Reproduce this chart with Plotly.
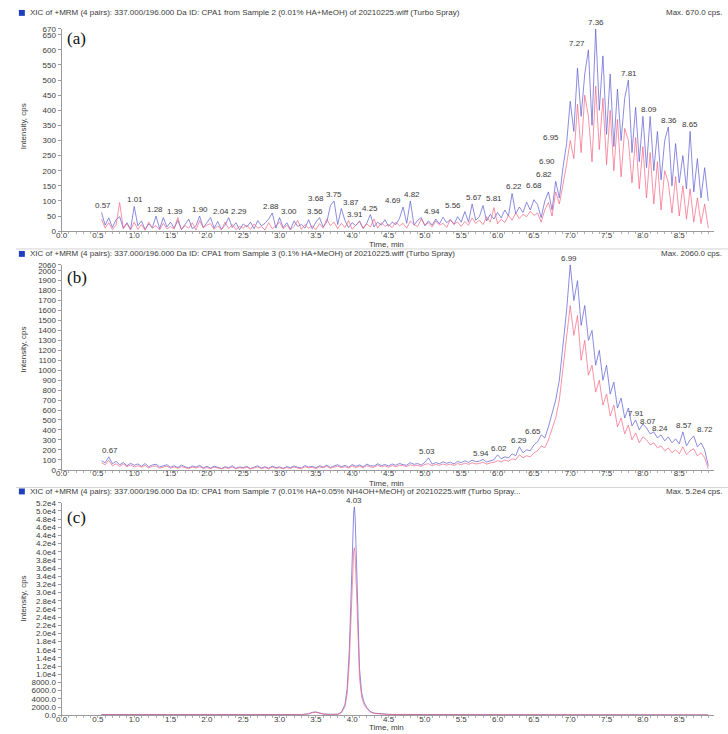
import plotly.graph_objects as go

W, H = 728, 734

# sampling grid of the chromatograms (panels a and b): 0.55 .. 8.90 min, 0.05 min step
T_START, T_STEP = 0.55, 0.05

# ---------------- panel (a) : Sample 2 (0.01% HA+MeOH) ----------------
A_BLUE = [
    62, 20, 44, 12, 38, 48, 10, 28, 6, 82,
    18, 34, 6, 24, 12, 50, 8, 45, 14, 30,
    10, 36, 5, 22, 40, 8, 18, 50, 12, 28,
    45, 10, 32, 6, 20, 45, 12, 28, 5, 24,
    14, 30, 8, 35, 18, 26, 40, 60, 10, 45,
    12, 28, 6, 34, 16, 22, 10, 38, 8, 30,
    45, 14, 30, 85, 100, 22, 75, 35, 12, 28,
    18, 34, 10, 26, 55, 14, 30, 20, 38, 16,
    30, 22, 42, 80, 26, 100, 20, 36, 45, 18,
    34, 20, 40, 24, 46, 28, 38, 22, 48, 30,
    65, 30, 90, 36, 48, 85, 34, 56, 40, 62,
    44, 70, 50, 125, 58, 80, 62, 96, 70, 104,
    88, 45, 100, 130, 70, 165, 110, 210, 290, 430,
    330, 540, 380, 520, 600, 350, 670, 400, 580, 320,
    520, 280, 470, 300, 440, 500, 260, 410, 230, 380,
    210, 380, 200, 330, 170, 300, 345, 150, 290, 160,
    250, 140, 330, 130, 240, 110, 210, 100,
]
A_RED = [
    40, 10, 28, 5, 20, 95, 8, 25, 4, 30,
    6, 22, 3, 30, 10, 18, 4, 26, 8, 15,
    8, 45, 5, 18, 10, 28, 4, 35, 12, 20,
    25, 6, 18, 4, 30, 8, 22, 5, 16, 10,
    20, 6, 24, 10, 15, 4, 28, 8, 18, 30,
    8, 20, 4, 16, 36, 6, 22, 10, 18, 5,
    25, 10, 40, 18, 30, 8, 26, 12, 35, 6,
    20, 32, 8, 24, 14, 40, 10, 28, 16, 22,
    12, 30, 18, 26, 10, 34, 22, 15, 40, 20,
    28, 14, 34, 20, 26, 12, 38, 24, 30, 16,
    32, 20, 44, 26, 36, 22, 48, 30, 78, 24,
    40, 28, 52, 36, 60, 42, 56, 48, 66, 52,
    60, 30, 70, 95, 50, 130, 90, 150, 220, 300,
    240, 420, 260, 450, 380, 230, 480, 270, 440, 220,
    400, 200, 370, 180, 340, 300, 160, 310, 140, 280,
    110, 260, 90, 230, 70, 200, 160, 60, 180, 50,
    150, 40, 140, 30, 110, 25, 90, 10,
]
A_LABELS = ["0.57", "1.01", "1.28", "1.39", "1.90", "2.04", "2.29", "2.88", "3.00",
            "3.56", "3.68", "3.75", "3.87", "3.91", "4.25", "4.69", "4.82", "4.94",
            "5.56", "5.67", "5.81", "6.22", "6.68", "6.82", "6.90", "6.95", "7.27",
            "7.36", "7.81", "8.09", "8.36", "8.65"]
A_YTICKS = [0, 50, 100, 150, 200, 250, 300, 350, 400, 450, 500, 550, 600, 650, 670]

# ---------------- panel (b) : Sample 3 (0.1% HA+MeOH) ----------------
B_BLUE = [
    90, 70, 130, 60, 85, 50, 72, 40, 65, 45,
    58, 35, 62, 30, 48, 55, 28, 42, 50, 25,
    40, 22, 46, 30, 18, 38, 26, 44, 20, 34,
    16, 36, 24, 12, 30, 20, 38, 14, 28, 22,
    34, 12, 26, 40, 18, 30, 15, 36, 22, 28,
    14, 32, 20, 38, 24, 16, 42, 26, 34, 20,
    40, 28, 46, 22, 38, 50, 30, 44, 26, 52,
    34, 48, 30, 56, 40, 36, 60, 42, 52, 38,
    58, 44, 64, 50, 46, 70, 54, 62, 48, 74,
    120, 56, 72, 60, 80, 64, 76, 58, 84, 70,
    90, 74, 96, 80, 86, 104, 78, 92, 100, 150,
    110, 130, 118, 160, 140, 230, 170, 200, 190, 250,
    280, 350, 320, 430, 560, 700, 900, 1250, 1600, 2060,
    1700, 1900, 1450, 1650, 1300, 1400, 1050, 1200, 900, 1050,
    760, 880, 620, 720, 520, 620, 440, 500, 400, 460,
    420, 360, 380, 320, 350, 290, 330, 270, 310, 260,
    380, 240, 300, 340, 230, 270, 200, 40,
]
B_RED = [
    70, 50, 95, 40, 60, 35, 55, 30, 48, 28,
    40, 25, 44, 18, 34, 38, 16, 30, 36, 15,
    28, 14, 32, 20, 10, 26, 16, 30, 12, 22,
    10, 26, 16, 8, 22, 12, 28, 8, 20, 14,
    24, 8, 18, 28, 10, 22, 9, 26, 14, 20,
    9, 22, 12, 28, 16, 10, 30, 18, 24, 12,
    28, 18, 34, 14, 26, 36, 20, 30, 16, 38,
    24, 34, 20, 40, 28, 26, 44, 30, 38, 26,
    42, 30, 46, 36, 32, 50, 38, 44, 34, 54,
    60, 40, 52, 44, 58, 46, 56, 42, 62, 50,
    66, 54, 70, 58, 62, 76, 56, 68, 74, 90,
    80, 96, 86, 110, 100, 150, 120, 140, 130, 170,
    190, 240, 220, 300, 400, 520, 700, 1000, 1300, 1650,
    1350, 1550, 1100, 1300, 950, 1050, 780, 900, 650, 760,
    540, 650, 430, 520, 360, 450, 300, 370, 270, 330,
    300, 250, 270, 220, 240, 190, 220, 170, 200, 160,
    230, 150, 190, 210, 140, 170, 120, 10,
]
B_LABELS = ["0.67", "5.03", "5.94", "6.02", "6.29", "6.65", "6.99",
            "7.91", "8.07", "8.24", "8.57", "8.72"]
B_YTICKS = list(range(0, 2001, 100)) + [2060]

# ---------------- panel (c) : Sample 7 (0.01% HA+0.05% NH4OH+MeOH) ----------------
C_TIME = [0.55, 1.0, 1.5, 2.0, 2.5, 3.0, 3.3, 3.4, 3.45, 3.5, 3.55, 3.6, 3.7, 3.8,
          3.85, 3.9, 3.93, 3.96, 3.98, 4.0, 4.02, 4.03, 4.04, 4.06, 4.08, 4.1,
          4.13, 4.16, 4.2, 4.25, 4.3, 4.4, 4.5, 5.0, 5.5, 6.0, 6.5, 7.0, 7.5,
          8.0, 8.5, 8.9]
C_BLUE = [150, 120, 110, 100, 110, 120, 150, 350, 700, 800, 600, 300, 200, 250,
          700, 2600, 6500, 16000, 27000, 40000, 49500, 51000, 48500, 37000, 23000, 11500,
          5500, 3300, 1900, 900, 500, 300, 200, 150, 130, 120, 110, 100, 100,
          90, 90, 80]
C_RED = [120, 100, 90, 80, 90, 100, 130, 300, 600, 700, 520, 260, 170, 210,
         560, 2100, 5200, 13000, 22000, 32500, 40000, 41000, 39000, 30000, 18500, 9200,
         4400, 2700, 1600, 750, 420, 250, 170, 130, 110, 100, 90, 80, 80,
         70, 70, 60]
C_LABELS = ["4.03"]
C_YTICKS = [0, 2000, 4000, 6000, 8000] + list(range(10000, 52001, 2000))
C_YTEXT = ["0.0", "2000.0", "4000.0", "6000.0", "8000.0"] + \
          ["%.1fe4" % (v / 10000) for v in range(10000, 52001, 2000)]

X_TICKS = [0.0, 0.5, 1.0, 1.5, 2.0, 2.5, 3.0, 3.5, 4.0, 4.5, 5.0, 5.5, 6.0, 6.5,
           7.0, 7.5, 8.0, 8.5]

HEADERS = [
    ("XIC of +MRM (4 pairs): 337.000/196.000 Da ID: CPA1 from Sample 2 (0.01% HA+MeOH) of 20210225.wiff (Turbo Spray)", "Max. 670.0 cps."),
    ("XIC of +MRM (4 pairs): 337.000/196.000 Da ID: CPA1 from Sample 3 (0.1% HA+MeOH) of 20210225.wiff (Turbo Spray)", "Max. 2060.0 cps."),
    ("XIC of +MRM (4 pairs): 337.000/196.000 Da ID: CPA1 from Sample 7 (0.01% HA+0.05% NH4OH+MeOH) of 20210225.wiff (Turbo Spray...", "Max. 5.2e4 cps."),
]
PANEL_TAGS = ["(a)", "(b)", "(c)"]
BASELINE_MARK = [33, 100, 2000]

# -------- layout geometry (pixels) --------
X_LEFT, X_RIGHT = 56, 714
PANELS = [  # (pixel y of zero, pixel y of top, ymax)
    (230, 25, 670),
    (471.5, 264, 2060),
    (720, 505, 52000),
]
HEADER_Y = [9, 253, 493.5]
TAG_Y = [35, 277, 520]
XLABEL_Y = [243, 485, 732]
YTITLE_Y = [124, 350, 602]
SEPARATORS = [248, 489.5]

# label collision shifts (px)
SHIFT = {"1.39": 12, "2.04": 11, "2.29": 11, "3.00": 9, "3.56": -5, "3.68": -13,
         "3.87": 8, "3.91": 9, "4.69": -9, "4.94": 11, "5.56": -13, "5.81": 10,
         "6.68": -13, "6.82": -13, "6.90": -16, "6.95": -16, "7.27": -13,
         "5.94": -12, "6.65": -12, "8.72": 10}

FONT = "Liberation Sans, Arial, sans-serif"
TXT = "#3a3a3a"
FS = 8
BLUE = "rgba(95,95,210,0.72)"
RED = "rgba(245,95,125,0.68)"


def px_x(p):
    return p / W


def px_y(p):
    return 1 - p / H


def grid(n):
    return [round(T_START + T_STEP * i, 3) for i in range(n)]


fig = go.Figure()
annotations = []
shapes = []

series = [
    (grid(len(A_BLUE)), A_BLUE, A_RED, A_LABELS, A_YTICKS, [str(v) for v in A_YTICKS]),
    (grid(len(B_BLUE)), B_BLUE, B_RED, B_LABELS, B_YTICKS, [str(v) for v in B_YTICKS]),
    (C_TIME, C_BLUE, C_RED, C_LABELS, C_YTICKS, C_YTEXT),
]

layout_axes = {}
for k, (t, blue, red, labels, yt, ytxt) in enumerate(series):
    n = k + 1
    xa = "x" if n == 1 else "x%d" % n
    ya = "y" if n == 1 else "y%d" % n
    y0, y1, ymax = PANELS[k]
    fig.add_trace(go.Scatter(x=t, y=blue, mode="lines", xaxis=xa, yaxis=ya,
                             line=dict(color=BLUE, width=1), showlegend=False,
                             hoverinfo="skip"))
    fig.add_trace(go.Scatter(x=t, y=red, mode="lines", xaxis=xa, yaxis=ya,
                             line=dict(color=RED, width=1), showlegend=False,
                             hoverinfo="skip"))
    fig.add_trace(go.Scatter(x=[-0.04], y=[BASELINE_MARK[k]], mode="markers",
                             xaxis=xa, yaxis=ya, cliponaxis=False,
                             marker=dict(symbol="triangle-right", size=6, color="#1f3fbf"),
                             showlegend=False, hoverinfo="skip"))
    # peak labels placed on the apex of the blue trace
    for lab in labels:
        tv = float(lab)
        j = min(range(len(t)), key=lambda i: abs(t[i] - tv))
        annotations.append(dict(x=tv, y=blue[j], xref=xa, yref=ya, text=lab,
                                showarrow=False, yanchor="bottom", yshift=0,
                                xshift=SHIFT.get(lab, 0),
                                font=dict(family=FONT, size=FS, color=TXT)))
    xkey = "xaxis" if n == 1 else "xaxis%d" % n
    ykey = "yaxis" if n == 1 else "yaxis%d" % n
    layout_axes[xkey] = dict(
        domain=[px_x(X_LEFT), px_x(X_RIGHT)], anchor=ya, range=[0, 8.98],
        tickmode="array", tickvals=X_TICKS, ticktext=["%.1f" % v for v in X_TICKS],
        showline=True, linecolor="#9a9a9a", linewidth=1, ticks="",
        showgrid=False, zeroline=False,
        ticklabelstandoff=-4,
        tickfont=dict(family=FONT, size=FS, color=TXT),
        minor=dict(dtick=0.1, ticks="outside", ticklen=2, tickcolor="#b0b0b0", showgrid=False),
    )
    layout_axes[ykey] = dict(
        domain=[px_y(y0), px_y(y1)], anchor=xa, range=[0, ymax],
        tickmode="array", tickvals=yt, ticktext=ytxt,
        showline=True, linecolor="#9a9a9a", linewidth=1, ticks="outside",
        ticklen=3, tickcolor="#9a9a9a", showgrid=False, zeroline=False,
        tickfont=dict(family=FONT, size=FS, color=TXT),
    )
    # header
    shapes.append(dict(type="rect", xref="paper", yref="paper",
                       x0=px_x(13), x1=px_x(19), y0=px_y(HEADER_Y[k] + 3),
                       y1=px_y(HEADER_Y[k] - 3), fillcolor="#1f3fbf", line=dict(width=0)))
    annotations.append(dict(x=px_x(22), y=px_y(HEADER_Y[k]), xref="paper", yref="paper",
                            text=HEADERS[k][0], showarrow=False, xanchor="left",
                            yanchor="middle", font=dict(family=FONT, size=FS, color=TXT)))
    annotations.append(dict(x=px_x(724), y=px_y(HEADER_Y[k]), xref="paper", yref="paper",
                            text=HEADERS[k][1], showarrow=False, xanchor="right",
                            yanchor="middle", font=dict(family=FONT, size=FS, color=TXT)))
    annotations.append(dict(x=px_x(59), y=px_y(TAG_Y[k]), xref="paper", yref="paper",
                            text=PANEL_TAGS[k], showarrow=False, xanchor="left",
                            yanchor="middle",
                            font=dict(family="Liberation Serif, Times New Roman, serif",
                                      size=17, color="#111")))
    annotations.append(dict(x=px_x(384), y=px_y(XLABEL_Y[k]), xref="paper", yref="paper",
                            text="Time, min", showarrow=False, xanchor="center",
                            yanchor="middle", font=dict(family=FONT, size=FS, color=TXT)))
    annotations.append(dict(x=px_x(18), y=px_y(YTITLE_Y[k]), xref="paper", yref="paper",
                            text="Intensity, cps", showarrow=False, textangle=-90,
                            xanchor="center", yanchor="middle",
                            font=dict(family=FONT, size=FS, color=TXT)))

for s in SEPARATORS:
    shapes.append(dict(type="line", xref="paper", yref="paper", x0=px_x(10), x1=1,
                       y0=px_y(s), y1=px_y(s), line=dict(color="#d4d4d4", width=1)))

fig.update_layout(
    width=W, height=H, autosize=False,
    margin=dict(l=0, r=0, t=0, b=0),
    paper_bgcolor="white", plot_bgcolor="white",
    annotations=annotations, shapes=shapes, showlegend=False,
    **layout_axes,
)

fig.write_html("out.html")
